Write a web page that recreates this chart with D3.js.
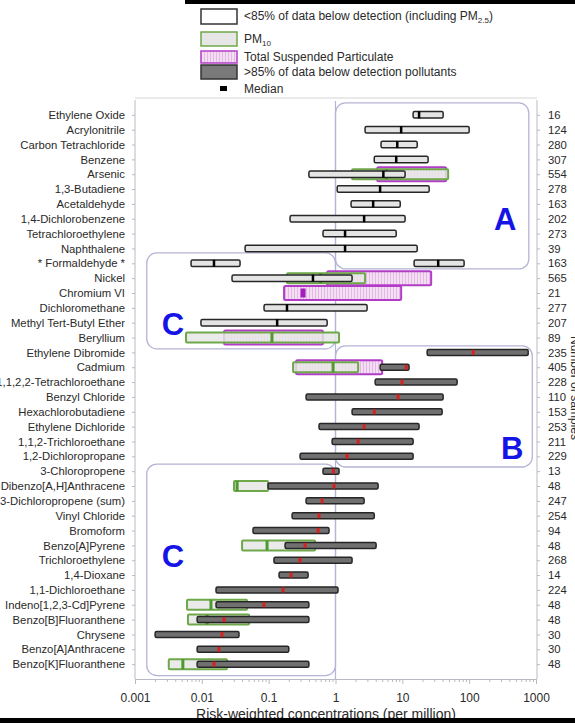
<!DOCTYPE html>
<html>
<head>
<meta charset="utf-8">
<script src="https://cdn.jsdelivr.net/npm/d3@7"></script>
<style>
  body { margin: 0; background: #fff; }
  svg { display: block; font-family: "Liberation Sans", Arial, sans-serif; }
</style>
</head>
<body>
<svg id="chart" width="575" height="725"></svg>
<script>
// Pollutants, top to bottom
const categories = [
  "Ethylene Oxide", "Acrylonitrile", "Carbon Tetrachloride", "Benzene", "Arsenic",
  "1,3-Butadiene", "Acetaldehyde", "1,4-Dichlorobenzene", "Tetrachloroethylene", "Naphthalene",
  "* Formaldehyde *", "Nickel", "Chromium VI", "Dichloromethane", "Methyl Tert-Butyl Ether",
  "Beryllium", "Ethylene Dibromide", "Cadmium", "1,1,2,2-Tetrachloroethane", "Benzyl Chloride",
  "Hexachlorobutadiene", "Ethylene Dichloride", "1,1,2-Trichloroethane", "1,2-Dichloropropane", "3-Chloropropene",
  "Dibenzo[A,H]Anthracene", "1,3-Dichloropropene (sum)", "Vinyl Chloride", "Bromoform", "Benzo[A]Pyrene",
  "Trichloroethylene", "1,4-Dioxane", "1,1-Dichloroethane", "Indeno[1,2,3-Cd]Pyrene", "Benzo[B]Fluoranthene",
  "Chrysene", "Benzo[A]Anthracene", "Benzo[K]Fluoranthene"
];

// Number of samples per pollutant (right axis)
const sampleCounts = [
  16, 124, 280, 307, 554, 278, 163, 202, 273, 39,
  163, 565, 21, 277, 207, 89, 235, 405, 228, 110,
  153, 253, 211, 229, 13, 48, 247, 254, 94, 48,
  268, 14, 224, 48, 48, 30, 30, 48
];

// <85% of data below detection: [pollutant, low, median, high] (per million)
const detectedRanges = [
  ["Ethylene Oxide", 14.5, 17.8, 40.8],
  ["Acrylonitrile", 2.77, 9.6, 100],
  ["Carbon Tetrachloride", 4.8, 8.4, 16.7],
  ["Benzene", 3.8, 8.1, 24.3],
  ["Arsenic", 0.40, 5.2, 11.0],
  ["1,3-Butadiene", 1.06, 4.65, 25.2],
  ["Acetaldehyde", 1.71, 3.66, 9.3],
  ["1,4-Dichlorobenzene", 0.209, 2.68, 11.0],
  ["Tetrachloroethylene", 0.65, 1.39, 8.1],
  ["Naphthalene", 0.0444, 1.39, 16.7],
  ["* Formaldehyde *", 0.0069, 0.0152, 0.0373],
  ["* Formaldehyde *", 15.0, 34.4, 84],
  ["Nickel", 0.0283, 0.46, 1.77],
  ["Dichloromethane", 0.0853, 0.188, 2.97],
  ["Methyl Tert-Butyl Ether", 0.0097, 0.134, 0.75]
];

// PM10 metals: [pollutant, low, median, high]
const pm10Ranges = [
  ["Arsenic", 1.77, 5.8, 48.5],
  ["Nickel", 0.188, 0.6, 2.77],
  ["Beryllium", 0.0058, 0.112, 1.13],
  ["Cadmium", 0.232, 0.92, 2.18],
  ["Dibenzo[A,H]Anthracene", 0.0303, 0.0337, 0.098],
  ["Benzo[A]Pyrene", 0.040, 0.0946, 0.495],
  ["Indeno[1,2,3-Cd]Pyrene", 0.006, 0.0137, 0.0475],
  ["Benzo[B]Fluoranthene", 0.0062, 0.012, 0.051],
  ["Benzo[K]Fluoranthene", 0.0032, 0.0052, 0.0238]
];

// Total suspended particulate: [pollutant, low, median, high]
const tspRanges = [
  ["Arsenic", 4.2, 6.5, 45.3],
  ["Nickel", 0.75, 1.2, 27],
  ["Chromium VI", 0.170, 0.327, 9.6],
  ["Beryllium", 0.0215, 0.112, 0.65],
  ["Cadmium", 0.257, 0.92, 4.99]
];

// >85% of data below detection: [pollutant, low, median, high]
const nonDetectRanges = [
  ["Ethylene Dibromide", 23.5, 115, 764],
  ["Cadmium", 4.65, 11.4, 12.6],
  ["1,1,2,2-Tetrachloroethane", 3.92, 9.9, 66],
  ["Benzyl Chloride", 0.363, 8.65, 40.8],
  ["Hexachlorobutadiene", 1.77, 3.8, 39.4],
  ["Ethylene Dichloride", 0.567, 2.68, 17.8],
  ["1,1,2-Trichloroethane", 0.89, 2.18, 14.5],
  ["1,2-Dichloropropane", 0.295, 1.49, 14.5],
  ["3-Chloropropene", 0.65, 0.93, 1.13],
  ["Dibenzo[A,H]Anthracene", 0.098, 0.95, 4.34],
  ["1,3-Dichloropropene (sum)", 0.363, 0.63, 2.68],
  ["Vinyl Chloride", 0.224, 0.567, 3.8],
  ["Bromoform", 0.0583, 0.55, 0.80],
  ["Benzo[A]Pyrene", 0.176, 0.35, 4.05],
  ["Trichloroethylene", 0.12, 0.295, 1.77],
  ["1,4-Dioxane", 0.143, 0.216, 0.389],
  ["1,1-Dichloroethane", 0.0163, 0.164, 1.09],
  ["Indeno[1,2,3-Cd]Pyrene", 0.0163, 0.085, 0.40],
  ["Benzo[B]Fluoranthene", 0.0085, 0.0215, 0.40],
  ["Chrysene", 0.002, 0.020, 0.036],
  ["Benzo[A]Anthracene", 0.0085, 0.018, 0.20],
  ["Benzo[K]Fluoranthene", 0.0085, 0.0152, 0.40]
];

// Risk groups: [label, first row, last row, low, high]
const riskGroups = [
  ["A", "Ethylene Oxide", "* Formaldehyde *", 1, 780],
  ["C", "* Formaldehyde *", "Beryllium", 0.0015, 1],
  ["B", "Ethylene Dibromide", "1,2-Dichloropropane", 1, 880],
  ["C", "3-Chloropropene", "Benzo[K]Fluoranthene", 0.0015, 1]
];

const xTickLabels = ["0.001", "0.01", "0.1", "1", "10", "100", "1000"];

const svg = d3.select("#chart");
const W = 575, H = 725;

const x = d3.scaleLog().domain([0.001, 1000]).range([135, 536]);
const y = d3.scalePoint().domain(categories).range([100, 679]).padding(1);
const step = y.step();

const C = {
  axis: "#b9b9c4",
  text: "#2a2a2a",
  region: "#b4b4d6",
  boxStroke: "#262626",
  boxFill: "#e4e4e4",
  gray: "#707070",
  green: "#6ea84a",
  greenFill: "#e6e6e6",
  purple: "#b23cc8",
  purpleFill: "#f4def4",
  red: "#d42222",
  blue: "#1414e6"
};

// hatch for TSP boxes
const defs = svg.append("defs");
const pat = defs.append("pattern").attr("id", "tsp-hatch")
  .attr("patternUnits", "userSpaceOnUse").attr("width", 3).attr("height", 3);
pat.append("rect").attr("width", 3).attr("height", 3).attr("fill", C.purpleFill);
pat.append("line").attr("x1", 0.5).attr("x2", 0.5).attr("y1", 0).attr("y2", 3)
  .attr("stroke", "#dcaadc").attr("stroke-width", 0.7);

// ---- risk group outlines
const gGroups = svg.append("g");
riskGroups.forEach(([label, r0, r1, lo, hi], i) => {
  const padTop = [0.8, 0.7, 0.44, 0.48][i] * step;
  const padBot = [0.38, 0.76, 0.72, 0.77][i] * step;
  const top = y(r0) - padTop, bot = y(r1) + padBot;
  gGroups.append("rect")
    .attr("x", x(lo)).attr("y", top)
    .attr("width", x(hi) - x(lo)).attr("height", bot - top)
    .attr("rx", 10).attr("fill", "none")
    .attr("stroke", C.region).attr("stroke-width", 1.3);
});
// reference line at 1 per million
gGroups.append("line")
  .attr("x1", x(1)).attr("x2", x(1)).attr("y1", 101).attr("y2", 679)
  .attr("stroke", C.region).attr("stroke-width", 1.2);

// ---- axes
const gAxes = svg.append("g");
gAxes.append("line").attr("x1", 135).attr("x2", 537).attr("y1", 98).attr("y2", 98)
  .attr("stroke", "#d4d4d4").attr("stroke-width", 1);

const majors = d3.range(-3, 4).map(e => Math.pow(10, e));
const minors = [];
for (let e = -3; e < 3; e++) for (let k = 2; k <= 9; k++) minors.push(k * Math.pow(10, e));

const bottom = gAxes.append("g").attr("transform", "translate(0,679)");
bottom.call(d3.axisBottom(x).tickValues(minors).tickSize(3).tickFormat(""));
bottom.append("g").call(d3.axisBottom(x).tickValues(majors).tickSize(5).tickSizeOuter(0)
  .tickPadding(9).tickFormat((d, i) => xTickLabels[i]));
bottom.selectAll("path, line").attr("stroke", C.axis);
bottom.selectAll("text").attr("fill", C.text).attr("font-size", 12)
  .attr("font-family", "Liberation Sans, Arial, sans-serif");

const left = gAxes.append("g").attr("transform", "translate(135,0)")
  .call(d3.axisLeft(y).tickSize(3).tickSizeOuter(0).tickPadding(7));
left.select(".domain").attr("d", "M0,100V679");
left.selectAll("path, line").attr("stroke", C.axis);
left.selectAll("text").attr("fill", C.text).attr("font-size", 11.3)
  .attr("font-family", "Liberation Sans, Arial, sans-serif");

const right = gAxes.append("g").attr("transform", "translate(537,0)")
  .call(d3.axisRight(y).tickSize(3).tickSizeOuter(0).tickPadding(8)
    .tickFormat((d, i) => sampleCounts[i]));
right.select(".domain").attr("d", "M0,100V679");
right.selectAll("path, line").attr("stroke", C.axis);
right.selectAll("text").attr("fill", C.text).attr("font-size", 11.3)
  .attr("font-family", "Liberation Sans, Arial, sans-serif");

svg.append("text").attr("transform", "translate(571,388) rotate(90)")
  .attr("text-anchor", "middle").attr("font-size", 12).attr("fill", C.text)
  .text("Number of samples");

// ---- range boxes
const gBars = svg.append("g");
function boxes(data, h, cls, attrs) {
  const sel = gBars.selectAll("rect." + cls).data(data).join("rect")
    .attr("class", cls)
    .attr("x", d => x(d[1]))
    .attr("y", d => y(d[0]) - h / 2)
    .attr("width", d => x(d[3]) - x(d[1]))
    .attr("height", h);
  Object.entries(attrs).forEach(([k, v]) => sel.attr(k, v));
}
function medians(data, w, h, color, cls) {
  gBars.selectAll("rect." + cls).data(data).join("rect")
    .attr("class", cls)
    .attr("x", d => x(d[2]) - w / 2)
    .attr("y", d => y(d[0]) - h / 2)
    .attr("width", w).attr("height", h).attr("fill", color);
}

boxes(tspRanges, 14, "tsp", { fill: "url(#tsp-hatch)", stroke: C.purple, "stroke-width": 2, rx: 1.5 });
boxes(pm10Ranges, 10, "pm10", { fill: C.greenFill, "fill-opacity": 0.85, stroke: C.green, "stroke-width": 2, rx: 1 });
medians(pm10Ranges, 3, 10, "#4f9a2c", "pm10-med");
boxes(detectedRanges, 6.5, "det", { fill: C.boxFill, stroke: C.boxStroke, "stroke-width": 1.5, rx: 1.5 });
medians(detectedRanges, 2.5, 7, "#000", "det-med");
boxes(nonDetectRanges, 6, "nd", { fill: C.gray, stroke: C.boxStroke, "stroke-width": 1.5, rx: 1.5 });
medians(nonDetectRanges, 3, 5, C.red, "nd-med");
medians(tspRanges.filter(d => d[0] === "Chromium VI"), 5, 9, "#a21cc0", "tsp-med");

// ---- group letters
const letterPos = [
  ["A", 346, 230], ["C", 0.0037, 335], ["B", 440, 459], ["C", 0.0037, 567]
];
svg.append("g").selectAll("text").data(letterPos).join("text")
  .attr("x", d => x(d[1])).attr("y", d => d[2])
  .attr("text-anchor", "middle").attr("font-size", 31).attr("font-weight", "bold")
  .attr("fill", C.blue).text(d => d[0]);

// ---- legend
const lg = svg.append("g");
const lx = 201, lw = 36, tx = 244;
lg.append("rect").attr("x", lx).attr("y", 9).attr("width", lw).attr("height", 15)
  .attr("fill", "#fff").attr("stroke", "#333").attr("stroke-width", 1.5);
lg.append("rect").attr("x", lx).attr("y", 32).attr("width", lw).attr("height", 14)
  .attr("fill", C.greenFill).attr("stroke", C.green).attr("stroke-width", 1.5);
lg.append("rect").attr("x", lx).attr("y", 51).attr("width", lw).attr("height", 12)
  .attr("fill", "url(#tsp-hatch)").attr("stroke", C.purple).attr("stroke-width", 1.5);
lg.append("rect").attr("x", lx).attr("y", 65).attr("width", lw).attr("height", 14)
  .attr("fill", "#7a7a7a").attr("stroke", "#333").attr("stroke-width", 1.5);
lg.append("rect").attr("x", 220).attr("y", 86).attr("width", 7).attr("height", 5).attr("fill", "#000");

const lt = (yy) => lg.append("text").attr("x", tx).attr("y", yy)
  .attr("font-size", 12).attr("fill", C.text);
const t1 = lt(20); t1.append("tspan").text("<85% of data below detection (including PM");
t1.append("tspan").attr("font-size", 8).attr("dy", 3).text("2.5");
t1.append("tspan").attr("dy", -3).text(")");
const t2 = lt(43); t2.append("tspan").text("PM");
t2.append("tspan").attr("font-size", 8).attr("dy", 3).text("10");
lt(61).text("Total Suspended Particulate");
lt(76).text(">85% of data below detection pollutants");
lt(93).text("Median");

// ---- axis title and frame rules
svg.append("text").attr("x", 326).attr("y", 719).attr("text-anchor", "middle")
  .attr("font-size", 14).attr("fill", C.text)
  .text("Risk-weighted concentrations (per million)");
svg.append("rect").attr("x", 0).attr("y", 718).attr("width", W).attr("height", 5).attr("fill", "#000");
svg.append("rect").attr("x", 185).attr("y", 0).attr("width", W - 185).attr("height", 4).attr("fill", "#000");
</script>
</body>
</html>
